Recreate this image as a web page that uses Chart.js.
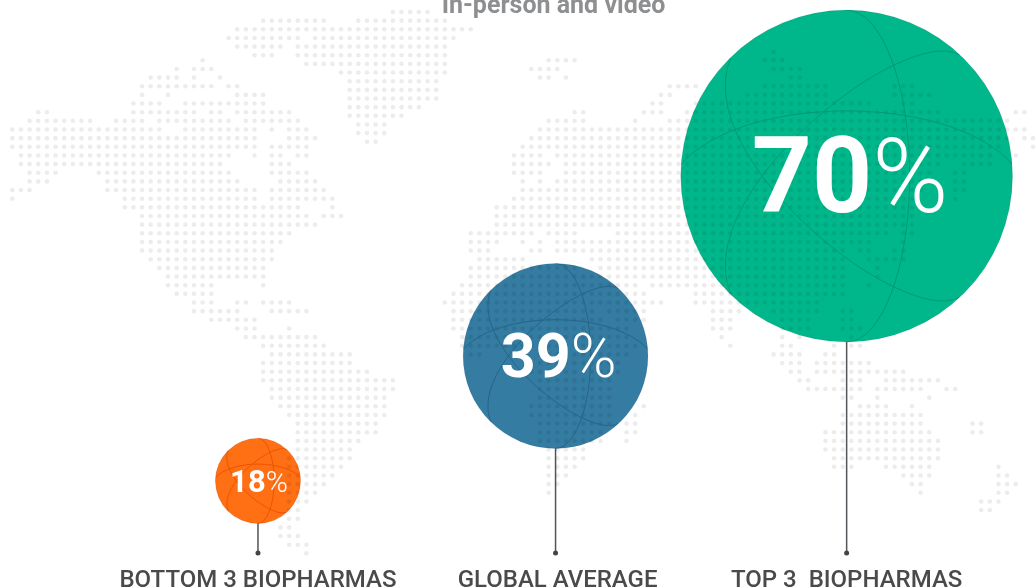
<!DOCTYPE html>
<html>
<head>
<meta charset="utf-8">
<title>In-person and video</title>
<script src="https://cdn.jsdelivr.net/npm/chart.js@4/dist/chart.umd.min.js"></script>
<style>
    html, body { margin: 0; padding: 0; background: #fff; }
    canvas { display: block; }
</style>
</head>
<body>
<canvas id="myChart" width="1036" height="588"></canvas>
<script>
var chartTitle = 'In-person and video';
var categories = ['BOTTOM 3 BIOPHARMAS', 'GLOBAL AVERAGE', 'TOP 3  BIOPHARMAS'];
var values = [18, 39, 70];
// where each bubble sits on the dot map, in map columns and rows
var bubbleCols = [28.4, 62.8, 96.45];
var bubbleRows = [54.2, 39.77, 18.96];

// dot map, [first column, last column] runs per row
var arcticRuns = [
    [[44, 48]],
    [[29, 36], [40, 50]],
    [[26, 53]],
    [[25, 33], [35, 51]],
    [[26, 31], [33, 50]],
    [[28, 30], [33, 50]],
    [[34, 50]],
    [[38, 50]],
    [[39, 49]],
    [[39, 49]],
    [[39, 49]],
    [[39, 47]],
    [[39, 45]],
    [[40, 43]],
    [[40, 43]],
    [[41, 42]]
];
var worldRuns = [
    [[88, 88]],
    [[22, 22], [62, 65], [87, 89]],
    [[19, 19], [21, 23], [60, 63], [88, 91]],
    [[16, 19], [21, 21], [24, 24], [61, 62], [64, 64], [90, 91]],
    [[15, 23], [25, 26], [76, 79], [87, 94], [102, 104]],
    [[15, 15], [18, 18], [26, 29], [75, 76], [85, 94], [102, 106]],
    [[14, 17], [20, 29], [74, 75], [79, 99], [103, 104]],
    [[3, 4], [14, 21], [23, 24], [26, 32], [65, 66], [73, 75], [78, 107], [116, 117]],
    [[2, 9], [12, 15], [17, 25], [27, 33], [62, 66], [72, 72], [76, 115]],
    [[0, 17], [20, 28], [30, 30], [32, 34], [61, 117]],
    [[0, 28], [32, 35], [60, 115], [117, 118]],
    [[0, 28], [30, 34], [59, 114], [118, 118]],
    [[1, 25], [28, 28], [30, 31], [33, 34], [58, 61], [63, 113], [116, 116]],
    [[1, 24], [30, 32], [58, 62], [64, 107], [110, 113]],
    [[2, 5], [10, 25], [30, 34], [58, 61], [64, 106], [109, 110]],
    [[2, 4], [11, 26], [31, 35], [59, 59], [61, 61], [63, 105], [109, 110]],
    [[0, 2], [11, 28], [30, 36], [59, 105], [109, 110]],
    [[0, 0], [13, 28], [30, 37], [58, 104], [109, 109]],
    [[13, 33], [37, 37], [56, 104]],
    [[15, 34], [36, 38], [56, 104]],
    [[15, 35], [56, 104]],
    [[15, 32], [53, 60], [62, 65], [70, 101], [103, 104]],
    [[15, 31], [53, 56], [59, 59], [61, 61], [63, 99], [103, 103]],
    [[15, 30], [53, 55], [60, 61], [63, 96], [98, 99], [102, 103]],
    [[16, 30], [54, 59], [67, 96], [99, 103]],
    [[17, 29], [53, 65], [68, 96], [100, 100]],
    [[18, 29], [53, 96], [100, 100]],
    [[18, 23], [29, 29], [52, 72], [74, 96], [99, 99]],
    [[19, 23], [51, 73], [79, 96]],
    [[21, 23], [26, 27], [29, 32], [50, 75], [79, 93]],
    [[21, 26], [30, 34], [51, 67], [69, 73], [81, 84], [88, 93], [96, 97]],
    [[23, 28], [51, 68], [70, 73], [81, 83], [89, 92], [96, 97]],
    [[26, 28], [32, 32], [51, 71], [81, 83], [89, 92], [96, 98]],
    [[27, 35], [52, 71], [82, 82], [89, 89], [91, 91], [97, 97]],
    [[29, 36], [52, 72], [83, 83], [89, 90], [95, 95], [97, 98]],
    [[30, 39], [53, 54], [61, 71], [88, 91], [94, 95]],
    [[29, 39], [60, 70], [89, 91], [93, 99]],
    [[29, 41], [60, 70], [90, 91], [93, 103]],
    [[29, 44], [61, 69], [91, 92], [96, 98], [101, 107]],
    [[30, 44], [61, 69], [92, 98], [100, 105], [108, 109]],
    [[30, 43], [61, 69], [96, 97], [100, 100], [106, 106]],
    [[31, 43], [60, 69], [73, 73], [98, 101], [104, 104]],
    [[32, 43], [60, 69], [72, 72], [96, 105]],
    [[33, 42], [61, 69], [71, 72], [96, 105], [111, 112]],
    [[33, 42], [61, 68], [71, 72], [94, 106], [111, 112]],
    [[33, 40], [61, 68], [71, 71], [94, 107]],
    [[33, 39], [62, 66], [94, 107]],
    [[32, 39], [62, 66], [95, 107]],
    [[32, 38], [62, 65], [95, 97], [101, 106], [114, 114]],
    [[32, 37], [62, 64], [103, 106], [114, 115]],
    [[32, 36], [62, 63], [104, 105], [114, 116]],
    [[32, 35], [62, 62], [105, 105], [114, 115]],
    [[32, 34], [112, 114]],
    [[32, 33], [112, 113]],
    [[32, 33]],
    [[31, 32]],
    [[31, 33]],
    [[32, 34]],
    [[34, 34]]
];

const ARCTIC_FIRST_ROW = 0;
const WORLD_FIRST_ROW = 4.587;
const STEM_END_ROW = 62.54;
const PX_PER_PERCENT = 2.37;

var bubbleColors = ['#ff6f14', '#347ca2', '#00b78b'];
var globeColors = ['#ee5205', '#27648a', '#029a74'];
var numberFontPx = [31, 61, 105];
var percentFontPx = [30, 62, 103];
var numberShiftPx = [1, 3, 3.5];
var labelShiftPx = [0, 2, 0];
var textFont = 'Roboto, sans-serif';

function dotsFromRuns(runs, firstRow) {
    var dots = [];
    runs.forEach(function (row, i) {
        row.forEach(function (run) {
            for (var col = run[0]; col <= run[1]; col++) {
                dots.push({ x: col, y: firstRow + i });
            }
        });
    });
    return dots;
}

// the globe lines, in units of the bubble radius
function drawGlobe(ctx, b, color) {
    ctx.save();
    ctx.translate(b.x, b.y);
    ctx.scale(b.r, b.r);
    ctx.beginPath();
    ctx.arc(0, 0, 1, 0, Math.PI * 2);
    ctx.clip();
    ctx.beginPath();
    ctx.ellipse(0, 0, 0.38, 1, 0, -Math.PI / 2, Math.PI / 2);
    ctx.moveTo(-1, -0.07);
    ctx.bezierCurveTo(-0.62, -0.5, 0.62, -0.5, 1, -0.07);
    ctx.moveTo(0.68, -0.73);
    ctx.bezierCurveTo(0.35, -0.92, -0.95, 0.1, -0.70, 0.71);
    ctx.moveTo(0.68, 0.73);
    ctx.bezierCurveTo(0.35, 0.92, -0.95, -0.1, -0.70, -0.71);
    ctx.scale(1 / b.r, 1 / b.r);
    ctx.strokeStyle = color;
    ctx.lineWidth = 1;
    ctx.stroke();
    ctx.restore();
}

const bubbleDecor = {
    id: 'bubbleDecor',
    afterDatasetsDraw: function (chart) {
        var ctx = chart.ctx;
        var points = chart.getDatasetMeta(0).data;
        points.forEach(function (point, i) {
            var b = { x: point.x, y: point.y, r: point.options.radius };
            drawGlobe(ctx, b, globeColors[i]);

            // bold number and light percent sign, centred together
            ctx.save();
            ctx.fillStyle = '#fff';
            ctx.textBaseline = 'alphabetic';
            ctx.textAlign = 'left';
            var number = String(values[i]);
            var numberFont = '700 ' + numberFontPx[i] + 'px ' + textFont;
            var percentFont = '300 ' + percentFontPx[i] + 'px ' + textFont;
            ctx.font = numberFont;
            var numberWidth = ctx.measureText(number).width;
            ctx.font = percentFont;
            var percentWidth = ctx.measureText('%').width;
            var left = b.x - (numberWidth + percentWidth) / 2 + numberShiftPx[i];
            var baseline = b.y + numberFontPx[i] * 0.345;
            ctx.font = numberFont;
            ctx.fillText(number, left, baseline);
            ctx.font = percentFont;
            ctx.fillText('%', left + numberWidth, baseline);

            // category under the stem
            ctx.fillStyle = '#4a4a4a';
            ctx.textAlign = 'center';
            ctx.font = '500 24px ' + textFont;
            ctx.fillText(categories[i], b.x + labelShiftPx[i], 586.5);
            ctx.restore();
        });

        ctx.save();
        ctx.fillStyle = '#8e8f91';
        ctx.textAlign = 'center';
        ctx.textBaseline = 'alphabetic';
        ctx.font = '700 25px ' + textFont;
        ctx.fillText(chartTitle, 553.5, 13);
        ctx.restore();
    }
};

var datasets = [{
    type: 'bubble',
    data: values.map(function (v, i) {
        return { x: bubbleCols[i], y: bubbleRows[i], r: v * PX_PER_PERCENT };
    }),
    radius: 0,
    backgroundColor: bubbleColors,
    borderColor: 'rgba(0, 0, 0, 0.08)',
    borderWidth: 1,
    clip: false,
    order: 2
}, {
    type: 'scatter',
    data: dotsFromRuns(arcticRuns, ARCTIC_FIRST_ROW).concat(dotsFromRuns(worldRuns, WORLD_FIRST_ROW)),
    pointRadius: 2.3,
    pointBorderWidth: 0,
    backgroundColor: 'rgba(0, 0, 0, 0.075)',
    clip: false,
    order: 1
}];

values.forEach(function (v, i) {
    datasets.push({
        type: 'scatter',
        data: [{ x: bubbleCols[i], y: bubbleRows[i] }, { x: bubbleCols[i], y: STEM_END_ROW }],
        showLine: true,
        borderColor: '#505559',
        borderWidth: 1.5,
        backgroundColor: '#444',
        pointBorderWidth: 0,
        pointRadius: [0, 2.5],
        clip: false,
        order: 3
    });
});

const ctx = document.getElementById('myChart').getContext('2d');
const myChart = new Chart(ctx, {
    data: { datasets: datasets },
    plugins: [bubbleDecor],
    options: {
        responsive: false,
        animation: false,
        events: [],
        layout: { padding: 0, autoPadding: false },
        plugins: {
            legend: { display: false },
            tooltip: { enabled: false }
        },
        scales: {
            x: { type: 'linear', display: false, min: -1.422, max: 118.34 },
            y: { type: 'linear', display: false, min: -1.387, max: 66.59, reverse: true }
        }
    }
});
</script>
</body>
</html>
